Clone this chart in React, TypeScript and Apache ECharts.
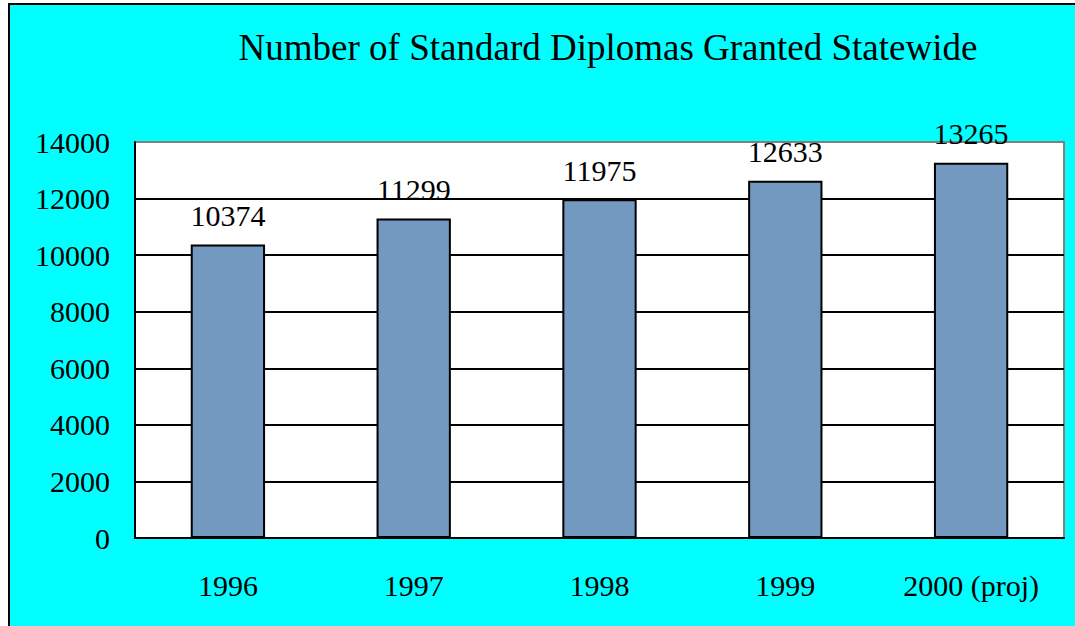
import React, { useEffect, useRef } from "react";
import * as echarts from "echarts";

const categories = ["1996", "1997", "1998", "1999", "2000 (proj)"];
const diplomas = [10374, 11299, 11975, 12633, 13265];
const titleText = "Number of Standard Diplomas Granted Statewide";

export default function App() {
  const ref = useRef<HTMLDivElement>(null);
  useEffect(() => {
    if (!ref.current) return;
    const chart = echarts.init(ref.current, undefined, { renderer: "svg" });
    const font = "Liberation Serif";
    chart.setOption({
      animation: false,
      backgroundColor: "#ffffff",
      textStyle: { fontFamily: font },
      graphic: [
        {
          type: "rect",
          shape: { x: 9, y: 4, width: 1080, height: 640 },
          style: { fill: "#00ffff", stroke: "#000000", lineWidth: 2 },
          z: -10,
          silent: true,
        },
        {
          type: "text",
          x: 608,
          y: 47,
          style: {
            text: titleText,
            fontFamily: font,
            fontSize: 37,
            fill: "#000000",
            align: "center",
            verticalAlign: "middle",
          },
        },
      ],
      grid: {
        left: 135,
        right: 11,
        top: 142,
        bottom: 88,
        show: true,
        backgroundColor: "#ffffff",
        borderColor: "#808080",
        borderWidth: 2,
      },
      xAxis: {
        type: "category",
        data: categories,
        axisLine: { show: true, lineStyle: { color: "#000000", width: 2 } },
        axisTick: { show: false },
        axisLabel: { color: "#000000", fontFamily: font, fontSize: 30, margin: 32 },
      },
      yAxis: {
        type: "value",
        min: 0,
        max: 14000,
        interval: 2000,
        axisLine: { show: true, lineStyle: { color: "#000000", width: 2 } },
        axisTick: { show: false },
        axisLabel: {
          color: "#000000",
          fontFamily: font,
          fontSize: 30,
          margin: 25,
          formatter: (v: number) => String(v),
        },
        splitLine: {
          show: true,
          lineStyle: {
            color: ["#000000", "#000000", "#000000", "#000000", "#000000", "#000000", "#000000", "#808080"],
            width: 2,
          },
        },
      },
      series: [
        {
          type: "bar",
          data: diplomas,
          barWidth: "40%",
          itemStyle: { color: "#7399C0", borderColor: "#000000", borderWidth: 2 },
          label: {
            show: true,
            position: "top",
            distance: 14,
            color: "#000000",
            fontFamily: font,
            fontSize: 30,
          },
        },
      ],
    });
    return () => chart.dispose();
  }, []);
  return (
    <div
      ref={ref}
      style={{ position: "fixed", left: 0, top: 0, width: 1075, height: 626 }}
    />
  );
}
